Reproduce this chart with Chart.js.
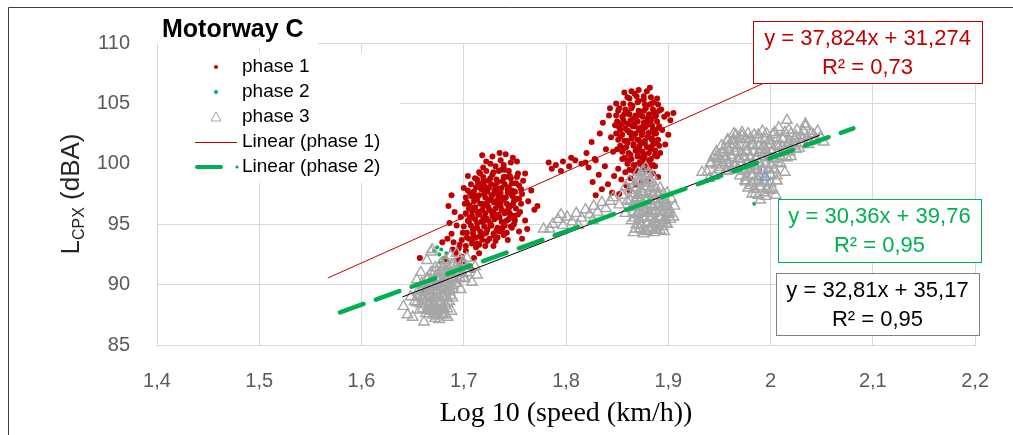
<!DOCTYPE html>
<html>
<head>
<meta charset="utf-8">
<script src="https://cdn.jsdelivr.net/npm/chart.js@4.4.1/dist/chart.umd.min.js"></script>
<style>
  html, body { margin: 0; background: #fff; }
  canvas { display: block; }
</style>
</head>
<body>
<canvas id="chart" width="1013" height="435"></canvas>
<script>
// phase 1 (red dots): two clusters + trail between them
const phase1 = [
  [1.705,95.2],[1.708,96.1],[1.710,94.6],[1.712,97.3],[1.714,95.8],[1.716,98.1],[1.718,96.7],[1.720,94.2],
  [1.721,97.9],[1.722,95.5],[1.724,98.6],[1.725,96.2],[1.726,94.9],[1.727,97.4],[1.728,99.1],[1.729,95.9],
  [1.730,96.8],[1.731,98.2],[1.732,94.5],[1.733,97.0],[1.734,99.4],[1.735,95.6],[1.736,96.5],[1.737,98.0],
  [1.738,97.2],[1.739,94.1],[1.740,96.0],[1.741,98.9],[1.742,95.3],[1.743,97.6],[1.744,96.3],[1.745,99.0],
  [1.746,94.8],[1.747,97.8],[1.748,96.6],[1.750,95.7],[1.751,98.4],[1.752,97.1],[1.706,97.6],[1.709,93.8],
  [1.711,98.8],[1.713,93.4],[1.715,99.3],[1.717,94.0],[1.719,99.7],[1.723,93.6],[1.726,100.0],[1.729,93.2],
  [1.731,99.8],[1.733,93.9],[1.736,100.3],[1.738,94.7],[1.740,99.5],[1.743,93.7],[1.746,100.1],[1.749,95.0],
  [1.753,99.2],[1.755,96.0],[1.757,97.5],[1.754,94.4],[1.703,93.9],[1.701,96.7],[1.699,94.3],[1.697,95.6],
  [1.702,92.8],[1.700,98.0],[1.724,97.0],[1.728,96.0],[1.734,97.9],[1.719,95.2],[1.745,95.9],[1.739,99.9],
  [1.716,99.2],[1.722,99.4],[1.729,99.3],[1.737,99.5],[1.744,99.4],
  [1.713,98.7],[1.719,98.9],[1.726,98.8],[1.732,98.7],[1.739,98.9],[1.746,98.8],[1.752,98.9],
  [1.707,98.3],[1.714,98.4],[1.720,98.2],[1.727,98.3],[1.733,98.5],[1.740,98.3],[1.747,98.4],[1.754,98.2],
  [1.704,97.8],[1.710,97.7],[1.717,97.9],[1.723,97.7],[1.730,97.8],[1.736,97.6],[1.743,97.9],[1.750,97.7],[1.756,97.9],
  [1.702,97.2],[1.708,97.3],[1.715,97.4],[1.721,97.2],[1.728,97.4],[1.734,97.3],[1.741,97.2],[1.748,97.3],[1.754,97.1],
  [1.703,96.8],[1.710,96.9],[1.716,96.7],[1.723,96.8],[1.729,96.9],[1.736,96.8],[1.742,96.7],[1.749,96.9],[1.756,96.7],
  [1.705,96.3],[1.711,96.4],[1.718,96.2],[1.724,96.4],[1.731,96.3],[1.737,96.2],[1.744,96.4],[1.751,96.3],
  [1.702,95.9],[1.708,95.7],[1.715,95.8],[1.721,95.9],[1.728,95.7],[1.734,95.8],[1.740,95.9],[1.747,95.7],[1.753,95.8],
  [1.704,95.3],[1.711,95.4],[1.717,95.2],[1.724,95.3],[1.730,95.4],[1.737,95.2],[1.744,95.4],[1.750,95.3],
  [1.700,94.8],[1.707,94.9],[1.713,94.7],[1.720,94.8],[1.727,94.9],[1.733,94.7],[1.740,94.9],[1.747,94.7],
  [1.703,94.3],[1.709,94.2],[1.716,94.4],[1.722,94.3],[1.729,94.2],[1.735,94.4],[1.742,94.3],
  [1.698,93.7],[1.705,93.8],[1.712,93.9],[1.718,93.7],[1.725,93.8],[1.731,93.6],
  [1.696,93.3],[1.702,93.2],[1.708,93.4],[1.715,93.3],[1.721,93.2],
  [1.712,98.05],[1.719,98.55],[1.725,98.05],[1.732,98.0],[1.738,98.55],[1.744,98.05],
  [1.707,97.55],[1.713,97.05],[1.720,97.55],[1.726,97.05],[1.733,97.55],[1.739,97.05],[1.746,97.55],
  [1.706,96.55],[1.713,96.05],[1.720,96.55],[1.727,96.05],[1.733,96.55],[1.740,96.05],[1.746,96.55],
  [1.706,95.55],[1.713,95.05],[1.719,95.55],[1.726,95.05],[1.732,95.55],[1.739,95.05],[1.745,95.55],
  [1.709,94.55],[1.716,94.05],[1.723,94.55],[1.730,94.05],[1.737,94.55],
  [1.690,93.5],[1.692,92.6],[1.688,94.2],[1.694,92.0],[1.686,95.1],[1.691,96.0],[1.695,93.0],[1.698,92.3],
  [1.689,92.9],[1.684,93.8],[1.693,94.9],[1.696,91.6],[1.700,91.9],[1.705,91.5],[1.710,92.2],[1.715,92.6],
  [1.708,91.2],[1.712,93.1],[1.657,92.2],[1.679,93.5],[1.682,92.1],[1.685,96.5],[1.688,97.4],[1.704,99.0],
  [1.758,98.6],[1.760,99.2],[1.763,96.9],[1.766,97.8],[1.769,96.2],[1.772,96.5],[1.760,95.3],[1.757,93.8],
  [1.762,94.6],[1.752,100.2],[1.748,100.5],[1.741,100.8],[1.735,100.9],[1.728,100.6],[1.722,100.2],[1.718,100.7],
  [1.783,100.1],[1.790,99.9],[1.797,100.2],[1.803,99.8],[1.809,100.3],[1.815,100.0],[1.819,100.1],[1.786,99.6],
  [1.795,99.4],[1.805,100.5],[1.822,99.7],[1.828,100.4],
  [1.850,101.2],[1.853,102.8],[1.855,100.4],[1.857,104.1],[1.859,101.9],[1.861,103.3],[1.862,100.8],[1.864,102.3],
  [1.865,104.8],[1.866,101.5],[1.868,103.7],[1.869,99.9],[1.870,102.0],[1.871,105.2],[1.872,101.1],[1.873,103.0],
  [1.874,100.5],[1.875,102.6],[1.876,104.4],[1.877,101.7],[1.878,99.5],[1.879,103.5],[1.880,102.2],[1.881,100.2],
  [1.882,104.9],[1.883,101.4],[1.884,103.2],[1.885,99.2],[1.886,102.5],[1.887,100.7],[1.888,104.0],[1.889,101.9],
  [1.890,98.9],[1.858,99.3],[1.860,105.5],[1.863,98.8],[1.867,105.8],[1.852,104.6],[1.856,103.6],[1.863,102.6],
  [1.870,104.0],[1.877,103.0],[1.884,102.0],[1.873,100.0],[1.866,99.4],[1.880,98.6],[1.887,99.8],[1.891,103.1],
  [1.892,100.9],[1.894,102.8],[1.848,103.2],[1.846,101.0],[1.851,99.6],[1.854,98.7],[1.859,98.2],[1.862,97.8],
  [1.868,98.3],[1.874,98.5],[1.871,106.1],[1.876,105.6],[1.879,106.0],[1.882,106.3],[1.886,105.1],[1.889,105.4],
  [1.864,106.0],[1.857,105.9],[1.893,104.5],[1.860,100.3],[1.867,103.1],[1.875,101.0],[1.882,103.8],[1.870,100.9],
  [1.862,105.4],[1.869,105.6],[1.876,105.3],[1.883,105.5],
  [1.856,105.0],[1.863,104.9],[1.870,105.1],[1.877,104.9],[1.884,105.0],[1.890,104.9],
  [1.851,104.4],[1.858,104.5],[1.864,104.6],[1.871,104.4],[1.878,104.6],[1.885,104.5],[1.891,104.4],
  [1.849,104.0],[1.855,103.9],[1.862,104.1],[1.868,104.0],[1.875,103.9],[1.881,104.1],[1.887,103.9],
  [1.850,103.5],[1.857,103.4],[1.863,103.6],[1.870,103.5],[1.876,103.4],[1.883,103.6],[1.889,103.5],
  [1.852,103.0],[1.858,102.9],[1.865,103.1],[1.871,102.9],[1.878,103.1],[1.885,102.9],[1.891,103.0],
  [1.849,102.5],[1.855,102.4],[1.862,102.6],[1.868,102.5],[1.874,102.4],[1.881,102.6],[1.888,102.5],
  [1.851,102.0],[1.857,101.9],[1.864,102.1],[1.871,102.0],[1.877,101.9],[1.884,102.1],[1.890,102.0],
  [1.853,101.5],[1.859,101.4],[1.866,101.6],[1.872,101.5],[1.879,101.4],[1.885,101.6],[1.891,101.5],
  [1.855,101.0],[1.861,100.9],[1.868,101.1],[1.874,101.0],[1.881,100.9],[1.887,101.1],
  [1.857,100.5],[1.864,100.4],[1.870,100.6],[1.877,100.5],[1.883,100.4],[1.889,100.6],
  [1.860,100.0],[1.866,99.9],[1.872,100.1],[1.879,100.0],[1.885,99.9],
  [1.862,99.5],[1.869,99.4],[1.875,99.6],[1.881,99.5],
  [1.860,104.25],[1.866,103.75],[1.873,104.25],[1.880,103.75],[1.886,104.25],
  [1.854,103.25],[1.860,102.75],[1.867,103.25],[1.873,102.75],[1.880,103.25],[1.887,102.75],
  [1.853,102.25],[1.860,101.75],[1.866,102.25],[1.873,101.75],[1.880,102.25],[1.887,101.75],
  [1.856,101.25],[1.863,100.75],[1.870,101.25],[1.876,100.75],[1.883,101.25],
  [1.861,100.25],[1.868,99.75],[1.875,100.25],[1.882,99.75],
  [1.896,103.9],[1.899,104.1],[1.902,103.6],[1.905,104.2],[1.897,101.6],[1.900,102.4],
  [1.820,100.9],[1.825,101.8],[1.829,100.3],[1.833,102.5],[1.836,103.4],[1.839,101.2],[1.842,104.0],[1.844,102.2],
  [1.847,99.0],[1.838,99.8],[1.832,99.1],[1.826,98.5],[1.841,98.3],[1.845,97.6],[1.835,97.9],[1.829,97.4],
  [1.849,105.0],[1.843,104.6],[1.852,97.5]
];

// phase 2 (green dots): mostly hidden under phase 3
const phase2 = [
  [1.671,92.8],[1.674,93.1],[1.676,92.5],[1.678,92.9],[1.680,92.2],[1.683,92.6],[1.685,91.9],[1.677,91.8],
  [1.681,88.0],[1.679,87.8],[1.660,89.5],[1.670,90.2],[1.690,90.8],[1.880,96.0],[1.890,97.2],
  [1.990,99.5],[2.000,100.8],[2.020,101.5],[1.984,96.7]
];

// phase 3 (grey triangles)
const phase3 = [
  [1.641,88.2],[1.645,87.5],[1.648,89.0],[1.650,87.3],[1.652,88.6],[1.655,89.4],[1.657,87.9],[1.659,90.1],
  [1.660,88.8],[1.662,89.6],[1.663,87.6],[1.665,90.5],[1.666,88.3],[1.667,89.2],[1.668,91.0],[1.669,87.8],
  [1.670,90.0],[1.671,88.9],[1.672,91.4],[1.673,89.5],[1.674,87.4],[1.675,90.4],[1.676,88.4],[1.677,91.7],
  [1.678,89.8],[1.679,88.1],[1.680,90.9],[1.681,89.1],[1.682,92.0],[1.683,90.2],[1.684,88.6],[1.685,91.2],
  [1.686,89.7],[1.687,92.4],[1.688,90.6],[1.689,88.9],[1.690,91.6],[1.692,90.1],[1.693,92.6],[1.695,91.0],
  [1.697,89.6],[1.699,91.9],[1.701,90.5],[1.703,92.2],[1.705,91.3],[1.708,90.2],[1.711,91.5],[1.713,90.8],
  [1.664,92.0],[1.668,92.7],[1.672,87.2],[1.676,87.1],[1.680,87.5],[1.684,87.3],[1.688,87.8],[1.658,91.0],
  [1.654,90.4],[1.669,92.9],[1.661,86.9],
  [1.680,91.5],[1.684,91.4],[1.688,91.6],[1.692,91.5],[1.696,91.4],[1.700,91.5],
  [1.671,91.0],[1.675,90.9],[1.679,91.1],[1.683,91.0],[1.687,90.9],[1.691,91.1],[1.695,91.0],[1.699,90.9],[1.703,91.0],
  [1.664,90.5],[1.668,90.4],[1.672,90.6],[1.676,90.5],[1.680,90.4],[1.684,90.6],[1.688,90.5],[1.692,90.4],[1.696,90.6],[1.700,90.5],
  [1.661,90.0],[1.665,89.9],[1.669,90.1],[1.673,90.0],[1.677,89.9],[1.681,90.1],[1.685,90.0],[1.689,89.9],[1.693,90.1],
  [1.658,89.5],[1.662,89.4],[1.666,89.6],[1.670,89.5],[1.674,89.4],[1.678,89.6],[1.682,89.5],[1.686,89.4],[1.690,89.6],
  [1.655,89.0],[1.659,88.9],[1.663,89.1],[1.667,89.0],[1.671,88.9],[1.675,89.1],[1.679,89.0],[1.683,88.9],[1.687,89.1],
  [1.654,88.5],[1.658,88.4],[1.662,88.6],[1.666,88.5],[1.670,88.4],[1.674,88.6],[1.678,88.5],[1.682,88.4],[1.686,88.6],
  [1.660,88.0],[1.664,87.9],[1.668,88.1],[1.672,88.0],[1.676,87.9],[1.680,88.1],[1.684,88.0],
  [1.666,87.6],[1.670,87.5],[1.674,87.7],[1.678,87.6],[1.682,87.5],
  [1.778,94.6],[1.784,94.6],[1.787,95.0],[1.792,95.4],[1.797,94.9],[1.801,95.6],[1.806,95.2],[1.810,95.9],
  [1.815,95.5],[1.819,96.2],[1.823,95.8],[1.827,96.5],[1.831,96.0],[1.835,96.8],[1.839,96.3],[1.843,96.9],
  [1.846,97.2],[1.812,94.9],[1.826,95.3],[1.795,95.8],
  [1.852,96.6],[1.855,97.4],[1.858,95.9],[1.860,96.9],[1.862,97.8],[1.864,95.3],[1.866,96.4],[1.867,98.3],
  [1.868,94.6],[1.869,97.2],[1.870,95.8],[1.871,98.9],[1.872,96.8],[1.873,94.9],[1.874,97.7],[1.875,99.4],
  [1.876,95.5],[1.877,96.3],[1.878,98.4],[1.879,94.4],[1.880,97.1],[1.881,95.9],[1.882,98.7],[1.883,96.6],
  [1.884,94.7],[1.885,97.5],[1.886,95.2],[1.887,98.1],[1.888,96.1],[1.889,94.5],[1.890,97.3],[1.891,95.6],
  [1.892,98.0],[1.893,96.4],[1.894,94.8],[1.895,97.0],[1.896,95.3],[1.897,96.7],[1.898,95.0],[1.899,97.6],
  [1.900,95.8],[1.901,96.2],[1.903,97.1],[1.905,95.6],[1.906,96.5],[1.878,99.7],[1.874,99.0],[1.880,99.2],
  [1.870,99.3],[1.884,99.0],[1.862,98.6],[1.858,98.1],[1.866,94.3],[1.876,94.2],[1.886,94.3],[1.896,94.4],
  [1.872,98.5],[1.877,98.6],[1.882,98.4],
  [1.868,98.0],[1.873,97.9],[1.878,98.1],[1.883,98.0],[1.888,97.9],
  [1.865,97.5],[1.870,97.4],[1.875,97.6],[1.880,97.5],[1.885,97.4],[1.890,97.6],[1.895,97.5],
  [1.863,97.0],[1.868,96.9],[1.873,97.1],[1.878,97.0],[1.883,96.9],[1.888,97.1],[1.893,97.0],[1.898,96.9],
  [1.865,96.5],[1.870,96.4],[1.875,96.6],[1.880,96.5],[1.885,96.4],[1.890,96.6],[1.895,96.5],[1.900,96.4],
  [1.866,96.0],[1.871,95.9],[1.876,96.1],[1.881,96.0],[1.886,95.9],[1.891,96.1],[1.896,96.0],[1.901,95.9],
  [1.867,95.5],[1.872,95.4],[1.877,95.6],[1.882,95.5],[1.887,95.4],[1.892,95.6],[1.897,95.5],[1.902,95.4],
  [1.869,95.0],[1.874,94.9],[1.879,95.1],[1.884,95.0],[1.889,94.9],[1.894,95.1],[1.899,95.0],
  [1.872,94.6],[1.877,94.5],[1.882,94.7],[1.887,94.6],[1.892,94.5],
  [1.933,99.3],[1.938,99.3],[1.942,100.1],[1.945,99.0],[1.948,100.6],[1.951,99.7],[1.954,101.2],[1.956,100.3],
  [1.958,99.4],[1.960,101.6],[1.962,100.7],[1.964,102.0],[1.966,99.9],[1.968,101.3],[1.970,100.4],[1.972,102.3],
  [1.974,99.6],[1.976,101.0],[1.978,100.1],[1.980,102.1],[1.982,98.9],[1.983,101.5],[1.985,99.8],[1.986,100.6],
  [1.988,102.4],[1.990,98.4],[1.991,101.2],[1.993,99.5],[1.995,100.8],[1.997,97.9],[1.998,101.9],[2.000,99.1],
  [2.002,100.4],[2.004,102.6],[2.006,98.6],[2.008,101.4],[2.010,100.0],[2.012,102.1],[2.014,99.3],[2.016,101.0],
  [2.018,102.8],[2.020,100.6],[2.022,101.7],[2.025,102.3],[2.028,101.3],[2.031,102.0],[2.034,103.1],[2.037,101.6],
  [2.040,102.5],[2.043,101.9],[2.046,102.7],[2.049,102.2],[2.052,101.8],[1.985,97.5],[1.990,97.0],[1.995,97.3],
  [2.000,97.8],[1.980,98.2],[1.975,98.6],[2.005,97.4],[2.016,103.6],[1.964,102.5],[2.034,103.3],[1.945,100.7],
  [1.940,98.8],[1.958,101.9],[1.992,102.7],[2.008,103.0],
  [1.966,102.4],[1.972,102.6],[1.978,102.5],[1.984,102.4],[1.996,102.5],[2.002,102.4],[2.014,102.6],[2.020,102.5],[2.026,102.8],[2.032,102.7],
  [1.958,102.0],[1.964,101.9],[1.970,102.1],[1.976,102.0],[1.982,101.9],[1.988,102.1],[1.994,102.0],[2.000,101.9],
  [2.006,102.1],[2.012,102.0],[2.018,101.9],[2.024,102.1],[2.030,102.3],[2.036,102.2],[2.042,102.4],
  [1.952,101.5],[1.958,101.4],[1.964,101.6],[1.970,101.5],[1.976,101.4],[1.982,101.6],[1.988,101.5],[1.994,101.4],
  [2.000,101.6],[2.006,101.5],[2.012,101.4],[2.018,101.6],[2.024,101.5],[2.030,101.7],[2.038,101.9],[2.044,102.0],
  [1.947,101.0],[1.953,100.9],[1.959,101.1],[1.965,101.0],[1.971,100.9],[1.977,101.1],[1.983,101.0],[1.989,100.9],
  [1.995,101.1],[2.001,101.0],[2.007,100.9],[2.013,101.1],[2.019,101.0],[2.025,101.2],
  [1.944,100.5],[1.950,100.4],[1.956,100.6],[1.962,100.5],[1.968,100.4],[1.974,100.6],[1.980,100.5],[1.986,100.4],
  [1.992,100.6],[1.998,100.5],[2.004,100.4],[2.010,100.6],[2.016,100.5],
  [1.941,100.0],[1.947,99.9],[1.953,100.1],[1.959,100.0],[1.965,99.9],[1.971,100.1],[1.977,100.0],[1.983,99.9],
  [1.989,100.1],[1.995,100.0],[2.001,99.9],[2.007,100.1],
  [1.950,99.5],[1.956,99.4],[1.962,99.6],[1.968,99.5],[1.974,99.4],[1.980,99.6],[1.986,99.5],[1.992,99.4],[1.998,99.6],[2.004,99.5],
  [1.970,99.0],[1.976,98.9],[1.982,99.1],[1.988,99.0],[1.994,98.9],[2.000,99.1],[2.006,99.0],
  [1.976,98.5],[1.982,98.4],[1.988,98.6],[1.994,98.5],[2.000,98.4],[2.006,98.6],
  [1.978,98.0],[1.984,97.9],[1.990,98.1],[1.996,98.0],[2.002,97.9],
  [1.982,97.5],[1.988,97.4],[1.994,97.6]
];

// single blue marker sitting in the last phase 3 cluster
const phase3Mark = [[1.995, 98.9]];

// trendlines: slope, intercept, x range, R²
const trendNames = ['Linear (phase 1)', 'Linear (phase 2)', 'Linear (phase 3)'];
const trendSlope = [37.824, 30.36, 32.81];
const trendIntercept = [31.274, 39.76, 35.17];
const trendFrom = [1.567, 1.579, 1.640];
const trendTo = [2.05, 2.081, 2.048];
const trendR2 = ['0,73', '0,95', '0,95'];
const trendLabels = ['y = 37,824x + 31,274', 'y = 30,36x + 39,76', 'y = 32,81x + 35,17'];

const SANS = 'Liberation Sans';
const RED = '#C00000';
const GREEN = '#00B050';
const GREY = '#A6A6A6';

const toXY = arr => arr.map(p => ({ x: p[0], y: p[1] }));
const trendData = i => [trendFrom[i], trendTo[i]].map(x => ({ x, y: trendSlope[i] * x + trendIntercept[i] }));

const decor = {
  id: 'decor',
  afterDraw(chart) {
    const ctx = chart.ctx;
    ctx.save();

    // outer frame (top + left visible)
    ctx.strokeStyle = '#404040';
    ctx.lineWidth = 1;
    ctx.beginPath();
    ctx.moveTo(8.5, 435);
    ctx.lineTo(8.5, 7.5);
    ctx.lineTo(1013, 7.5);
    ctx.stroke();

    // title
    ctx.fillStyle = '#fff';
    ctx.fillRect(158, 12, 160, 36);
    ctx.fillStyle = '#000';
    ctx.font = 'bold 25px ' + SANS;
    ctx.textBaseline = 'alphabetic';
    ctx.textAlign = 'left';
    ctx.fillText('Motorway C', 162, 37);

    // legend
    ctx.fillStyle = '#fff';
    ctx.fillRect(158, 53, 242, 130);
    const rows = [67, 92, 117, 142, 167];
    ctx.font = '19px ' + SANS;
    ctx.textBaseline = 'middle';
    ctx.fillStyle = '#000';
    ['phase 1', 'phase 2', 'phase 3', trendNames[0], trendNames[1]]
      .forEach((t, i) => ctx.fillText(t, 242, rows[i]));
    ctx.fillStyle = RED;
    ctx.beginPath(); ctx.arc(216, rows[0], 2, 0, Math.PI * 2); ctx.fill();
    ctx.fillStyle = GREEN;
    ctx.beginPath(); ctx.arc(216, rows[1], 2, 0, Math.PI * 2); ctx.fill();
    ctx.strokeStyle = GREY;
    ctx.beginPath();
    ctx.moveTo(216, rows[2] - 5); ctx.lineTo(221, rows[2] + 4); ctx.lineTo(211, rows[2] + 4); ctx.closePath();
    ctx.stroke();
    ctx.strokeStyle = RED;
    ctx.beginPath(); ctx.moveTo(195, rows[3] + 0.5); ctx.lineTo(237, rows[3] + 0.5); ctx.stroke();
    ctx.strokeStyle = GREEN;
    ctx.lineWidth = 4;
    ctx.lineCap = 'round';
    ctx.beginPath(); ctx.moveTo(197, rows[4]); ctx.lineTo(221, rows[4]); ctx.stroke();
    ctx.fillStyle = GREEN;
    ctx.beginPath(); ctx.arc(237, rows[4], 1.6, 0, Math.PI * 2); ctx.fill();
    ctx.lineCap = 'butt';
    ctx.lineWidth = 1;

    // trendline equation boxes
    const boxes = [
      { x: 753, y: 21, w: 229, h: 62, c: RED, b: RED, i: 0 },
      { x: 778, y: 199, w: 203, h: 63, c: GREEN, b: GREEN, i: 1 },
      { x: 776, y: 273, w: 203, h: 62, c: '#000', b: '#808080', i: 2 }
    ];
    ctx.font = '22px ' + SANS;
    ctx.textAlign = 'center';
    boxes.forEach(bx => {
      ctx.fillStyle = '#fff';
      ctx.fillRect(bx.x, bx.y, bx.w, bx.h);
      ctx.strokeStyle = bx.b;
      ctx.strokeRect(bx.x + 0.5, bx.y + 0.5, bx.w, bx.h);
      ctx.fillStyle = bx.c;
      const cx = bx.x + bx.w / 2;
      ctx.fillText(trendLabels[bx.i], cx, bx.y + 18);
      ctx.fillText('R² = ' + trendR2[bx.i], cx, bx.y + 47);
    });

    // y axis title: L with subscript CPX
    ctx.translate(70, 194);
    ctx.rotate(-Math.PI / 2);
    ctx.fillStyle = '#262626';
    ctx.textAlign = 'left';
    ctx.textBaseline = 'alphabetic';
    const big = '26px ' + SANS, small = '16px ' + SANS;
    ctx.font = big; const wL = ctx.measureText('L').width;
    const wRest = ctx.measureText(' (dBA)').width;
    ctx.font = small; const wSub = ctx.measureText('CPX').width;
    let x = -(wL + wSub + wRest) / 2;
    ctx.font = big; ctx.fillText('L', x, 9); x += wL;
    ctx.font = small; ctx.fillText('CPX', x, 14); x += wSub;
    ctx.font = big; ctx.fillText(' (dBA)', x, 9);

    ctx.restore();
  }
};

new Chart(document.getElementById('chart'), {
  type: 'scatter',
  data: {
    datasets: [
      { type: 'line', label: trendNames[0], data: trendData(0), borderColor: RED, borderWidth: 1,
        pointRadius: 0, fill: false, order: 0 },
      { type: 'line', label: trendNames[1], data: trendData(1), borderColor: GREEN, borderWidth: 4.5,
        borderDash: [25, 13], borderCapStyle: 'round', pointRadius: 0, fill: false, order: 0 },
      { type: 'line', label: trendNames[2], data: trendData(2), borderColor: '#000', borderWidth: 1,
        pointRadius: 0, fill: false, order: 0 },
      { label: 'phase 3 mark', data: toXY(phase3Mark), pointStyle: 'triangle', pointRadius: 6,
        borderColor: '#5B9BD5', backgroundColor: 'rgba(0,0,0,0)', borderWidth: 1, order: 1 },
      { label: 'phase 3', data: toXY(phase3), pointStyle: 'triangle', pointRadius: 6,
        borderColor: GREY, backgroundColor: 'rgba(0,0,0,0)', borderWidth: 1.4, order: 2 },
      { label: 'phase 2', data: toXY(phase2), pointRadius: 2, pointBorderWidth: 0,
        backgroundColor: GREEN, borderColor: GREEN, order: 3 },
      { label: 'phase 1', data: toXY(phase1), pointRadius: 3, pointBorderWidth: 0,
        backgroundColor: RED, borderColor: RED, order: 4 }
    ]
  },
  options: {
    responsive: false,
    animation: false,
    layout: { padding: { top: 43, right: 30, bottom: 0, left: 0 } },
    plugins: { legend: { display: false }, tooltip: { enabled: false } },
    scales: {
      x: {
        type: 'linear', min: 1.4, max: 2.2,
        afterFit: s => { s.height = 90; },
        grid: { color: '#D9D9D9', drawTicks: false },
        border: { color: '#D9D9D9' },
        ticks: {
          stepSize: 0.1, padding: 24, color: '#595959',
          font: { family: SANS, size: 20 },
          callback: v => String(Math.round(v * 10) / 10).replace('.', ',')
        },
        title: {
          display: true, text: 'Log 10 (speed (km/h))', color: '#000',
          font: { family: 'Liberation Serif', size: 28 }, padding: { top: 5, bottom: 5 }
        }
      },
      y: {
        min: 85, max: 110,
        afterFit: s => { s.width = 157; },
        grid: { color: '#D9D9D9', drawTicks: false },
        border: { color: '#D9D9D9' },
        ticks: { stepSize: 5, padding: 27, color: '#595959', font: { family: SANS, size: 20 } }
      }
    }
  },
  plugins: [decor]
});
</script>
</body>
</html>
